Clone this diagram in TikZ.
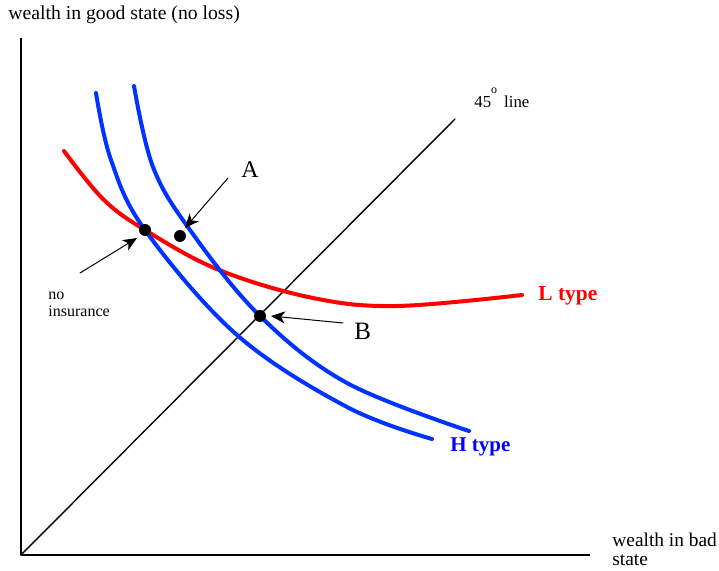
\documentclass[tikz,border=0pt]{standalone}
\usepackage{fontspec}
\setmainfont{Liberation Serif}
\usetikzlibrary{arrows.meta}
\definecolor{hblue}{RGB}{0,51,255}
\definecolor{lred}{RGB}{255,0,0}
\tikzset{
  curve/.style={line width=2pt, line cap=round, line join=round},
  pointer/.style={line width=0.5pt, -{Stealth[length=7pt, width=6pt, inset=2pt]}},
  lab/.style={inner sep=0pt, anchor=base west}
}
\begin{document}
\begin{tikzpicture}[x=0.5pt, y=-0.5pt, line join=round, line cap=round]
			\useasboundingbox (0,0) rectangle (719,571);
			% axes and 45 degree line
			\foreach \x\y\t in {21/38/T,21/555/O,590/555/R,455/119/D}
			\coordinate (\t) at (\x,\y);
			\draw[line width=1pt, line cap=butt] (T)--(O)--(R);
			\draw[line width=0.7pt] (O)--(D);
			% indifference curves
			\draw[curve, lred] plot[smooth, tension=0.6] coordinates {(64,151) (103,199) (145,230) (219,270) (313,298) (397,306) (522,295)};
			\draw[curve, hblue] plot[smooth, tension=0.6] coordinates {(96,93) (111,160) (145,230) (237,335) (347,407) (432,439)};
			\draw[curve, hblue] plot[smooth, tension=0.6] coordinates {(134,86) (153,167) (190,230) (260,316) (347,383) (469,431)};
			% points
			\foreach \x\y\t in {145/230/N,180/236/P,260/316/Q}
			\fill (\x,\y) coordinate (\t) circle(3pt);
			% labels
			\node[lab, font=\fontsize{9.85}{11}\selectfont] (ylab) at (8,20) {wealth in good state (no loss)};
			\node[lab, font=\fontsize{9.7}{9.5}\selectfont, align=left] (xlab) at (612,566) {wealth in bad\\state};
			\node[lab, font=\fontsize{8.4}{10}\selectfont] (deg) at (474,108) {45\raisebox{7pt}{\fontsize{6}{6}\selectfont o}\hspace{3.5pt}line};
			\node[lab, font=\fontsize{12}{14}\selectfont] (A) at (241,178) {A};
			\node[lab, font=\fontsize{12.5}{14}\selectfont] (B) at (354,340) {B};
			\node[lab, font=\fontsize{8}{8.5}\selectfont, align=left] (noins) at (48,317) {no\\insurance};
			\node[lab, font=\bfseries\fontsize{10.7}{12}\selectfont, text=lred] (L) at (538,301) {L type};
			\node[lab, font=\bfseries\fontsize{10.5}{12}\selectfont, text=blue] (H) at (450,452) {H type};
			% pointers
			\foreach \x\y\t in {80/273/n0,228/178/a0,343/323/b0,137/238/n1,185/228/a1,271/316/b1}
			\coordinate (\t) at (\x,\y);
			\draw[pointer] (n0)--(n1);
			\draw[pointer] (a0)--(a1);
			\draw[pointer] (b0)--(b1);
		\end{tikzpicture}
\end{document}
